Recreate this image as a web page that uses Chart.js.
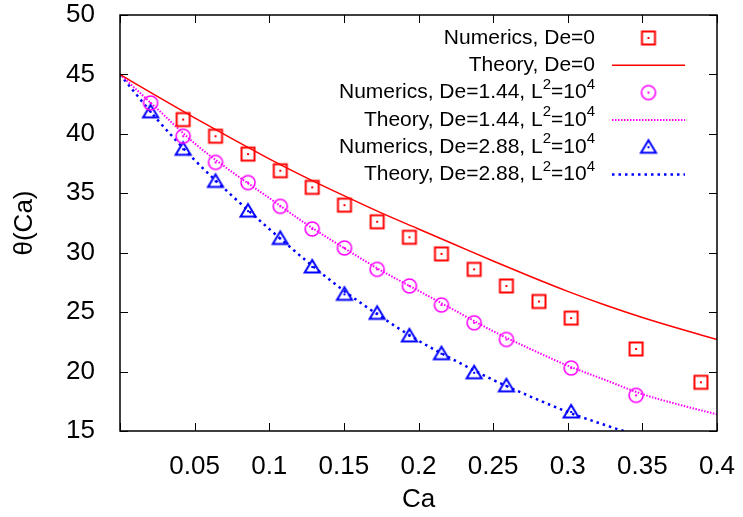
<!DOCTYPE html>
<html>
<head>
<meta charset="utf-8">
<script src="https://cdn.jsdelivr.net/npm/chart.js@4"></script>
<style>
  html, body { margin: 0; padding: 0; background: #fff; }
</style>
</head>
<body>
<canvas id="myChart" width="743" height="517"></canvas>
<script>
// Ca values where the simulations were sampled
const caNum = [0.0205, 0.0423, 0.064, 0.0858, 0.1074, 0.1288, 0.1504, 0.1723, 0.1939, 0.2154, 0.2373, 0.2589, 0.2807, 0.3023, 0.3458, 0.3892];
const numDe0 = [null, 41.2, 39.8, 38.3, 36.9, 35.5, 34.0, 32.6, 31.3, 29.9, 28.6, 27.2, 25.9, 24.5, 21.9, 19.1];
const numDe144 = [42.6, 39.8, 37.6, 35.9, 33.9, 32.0, 30.4, 28.6, 27.2, 25.6, 24.1, 22.7, null, 20.3, 18.0, null];
const numDe288 = [41.85, 38.7, 36.0, 33.5, 31.2, 28.8, 26.5, 24.9, 23.0, 21.5, 19.9, 18.8, null, 16.6, null, null];

// theory curves
const caTheory = [0, 0.025, 0.05, 0.075, 0.1, 0.125, 0.15, 0.175, 0.2, 0.225, 0.25, 0.275, 0.3, 0.325, 0.35, 0.375, 0.4];
const thDe0 = [45.0, 43.15, 41.35, 39.6, 37.9, 36.3, 34.8, 33.35, 32.0, 30.65, 29.3, 28.0, 26.75, 25.6, 24.55, 23.6, 22.7];
const thDe144 = [45.0, 42.1, 39.2, 36.8, 34.6, 32.4, 30.4, 28.5, 26.8, 25.1, 23.4, 21.9, 20.5, 19.3, 18.1, 17.2, 16.4];
const thDe288 = [45.0, 41.2, 37.8, 34.8, 32.0, 29.3, 26.8, 24.6, 22.6, 20.9, 19.3, 17.9, 16.6, 15.5, 14.5];

const labels = [
  'Numerics, De=0',
  'Theory, De=0',
  'Numerics, De=1.44, L^2=10^4',
  'Theory, De=1.44, L^2=10^4',
  'Numerics, De=2.88, L^2=10^4',
  'Theory, De=2.88, L^2=10^4'
];

const RED = '#ff0000', MAG = '#ff00ff', BLUE = '#0000ff';
const FONT = '"Liberation Sans", Arial, sans-serif';
Chart.defaults.font.family = FONT;
Chart.defaults.color = '#000';

function makeMarker(shape, color) {
  const c = document.createElement('canvas');
  const s = 20;
  c.width = s; c.height = s;
  const g = c.getContext('2d');
  const m = s / 2;
  g.strokeStyle = color;
  g.fillStyle = color;
  g.lineWidth = shape === 'circle' ? 1.6 : 2;
  g.beginPath();
  if (shape === 'square') g.rect(m - 6.5, m - 6.5, 13, 13);
  else if (shape === 'circle') g.arc(m, m, 7, 0, Math.PI * 2);
  else { g.moveTo(m, m - 7); g.lineTo(m + 7.5, m + 5.5); g.lineTo(m - 7.5, m + 5.5); g.closePath(); }
  g.stroke();
  g.fillRect(m - 1, m - 1, 2, 2);
  return c;
}

const mkSquare = makeMarker('square', RED);
const mkCircle = makeMarker('circle', MAG);
const mkTri = makeMarker('triangle', BLUE);

function pts(xs, ys) {
  return ys.map((y, i) => ({ x: xs[i], y: y })).filter(p => p.y !== null);
}

function numSet(label, ys, marker) {
  return {
    label: label,
    data: pts(caNum, ys),
    showLine: false,
    pointStyle: marker,
    pointRadius: 7,
    pointHoverRadius: 7,
    marker: marker
  };
}

function theorySet(label, ys, color, width, dash) {
  return {
    label: label,
    data: pts(caTheory, ys),
    borderColor: color,
    borderWidth: width,
    borderDash: dash,
    pointRadius: 0,
    cubicInterpolationMode: 'monotone',
    clip: 0
  };
}

// frame, inward ticks on all sides, gnuplot style key
const gnuplotLook = {
  id: 'gnuplotLook',
  afterDraw(chart) {
    const ctx = chart.ctx;
    const a = chart.chartArea;
    const xs = chart.scales.x, ys = chart.scales.y;
    ctx.save();
    ctx.strokeStyle = '#000';
    ctx.lineWidth = 1;
    const tl = 8;
    ctx.beginPath();
    xs.ticks.forEach(t => {
      const px = Math.round(xs.getPixelForValue(t.value)) + 0.5;
      ctx.moveTo(px, a.bottom); ctx.lineTo(px, a.bottom - tl);
      ctx.moveTo(px, a.top); ctx.lineTo(px, a.top + tl);
    });
    ys.ticks.forEach(t => {
      const py = Math.round(ys.getPixelForValue(t.value)) + 0.5;
      ctx.moveTo(a.left, py); ctx.lineTo(a.left + tl, py);
      ctx.moveTo(a.right, py); ctx.lineTo(a.right - tl, py);
    });
    ctx.stroke();
    ctx.lineWidth = 1.5;
    ctx.strokeRect(a.left, a.top, a.right - a.left, a.bottom - a.top);

    // key
    const textRight = 595, sampleL = 612, sampleR = 685, y0 = 38, step = 27.3;
    chart.data.datasets.forEach((ds, i) => {
      const y = y0 + i * step;
      drawRich(ctx, ds.label, textRight, y);
      if (ds.marker) {
        ctx.drawImage(ds.marker, (sampleL + sampleR) / 2 - ds.marker.width / 2, y - ds.marker.height / 2);
      } else {
        ctx.beginPath();
        ctx.strokeStyle = ds.borderColor;
        ctx.lineWidth = ds.borderWidth;
        ctx.setLineDash(ds.borderDash || []);
        ctx.moveTo(sampleL, y); ctx.lineTo(sampleR, y);
        ctx.stroke();
        ctx.setLineDash([]);
      }
    });
    ctx.restore();
  }
};

// text with ^x superscripts, right aligned at x
function drawRich(ctx, str, right, y) {
  const parts = [];
  str.split(/(\^\d+)/).forEach(s => {
    if (!s) return;
    if (s[0] === '^') parts.push({ t: s.slice(1), sup: true });
    else parts.push({ t: s, sup: false });
  });
  const big = '21px ' + FONT, small = '15px ' + FONT;
  let w = 0;
  parts.forEach(p => { ctx.font = p.sup ? small : big; p.w = ctx.measureText(p.t).width; w += p.w; });
  let x = right - w;
  ctx.fillStyle = '#000';
  ctx.textBaseline = 'middle';
  ctx.textAlign = 'left';
  parts.forEach(p => {
    ctx.font = p.sup ? small : big;
    ctx.fillText(p.t, x, p.sup ? y - 8 : y);
    x += p.w;
  });
}

new Chart(document.getElementById('myChart'), {
  type: 'line',
  data: {
    datasets: [
      numSet(labels[0], numDe0, mkSquare),
      theorySet(labels[1], thDe0, RED, 1.5, []),
      numSet(labels[2], numDe144, mkCircle),
      theorySet(labels[3], thDe144, MAG, 2, [1.5, 1.5]),
      numSet(labels[4], numDe288, mkTri),
      theorySet(labels[5], thDe288, BLUE, 2.5, [2.5, 4])
    ]
  },
  options: {
    responsive: false,
    animation: false,
    layout: { padding: { left: 0, right: 26, top: 15, bottom: 0 } },
    scales: {
      x: {
        type: 'linear',
        min: 0,
        max: 0.4,
        grid: { display: false },
        border: { display: false },
        afterFit: s => { s.height = 86; s.paddingLeft = 0; s.paddingRight = 0; },
        ticks: {
          stepSize: 0.05,
          padding: 12,
          font: { size: 26 },
          maxRotation: 0,
          callback: v => v === 0 ? '' : String(+v.toFixed(2))
        },
        title: { display: true, text: 'Ca', font: { size: 26 }, padding: { top: 0, bottom: 2 } }
      },
      y: {
        min: 15,
        max: 50,
        grid: { display: false },
        border: { display: false },
        afterFit: s => { s.width = 120; s.paddingTop = 0; s.paddingBottom = 0; },
        ticks: { stepSize: 5, padding: 17, font: { size: 26 } },
        title: { display: true, text: 'θ(Ca)', font: { size: 26 }, padding: { top: 9, bottom: 0 } }
      }
    },
    plugins: {
      legend: { display: false },
      tooltip: { enabled: false }
    }
  },
  plugins: [gnuplotLook]
});
</script>
</body>
</html>
